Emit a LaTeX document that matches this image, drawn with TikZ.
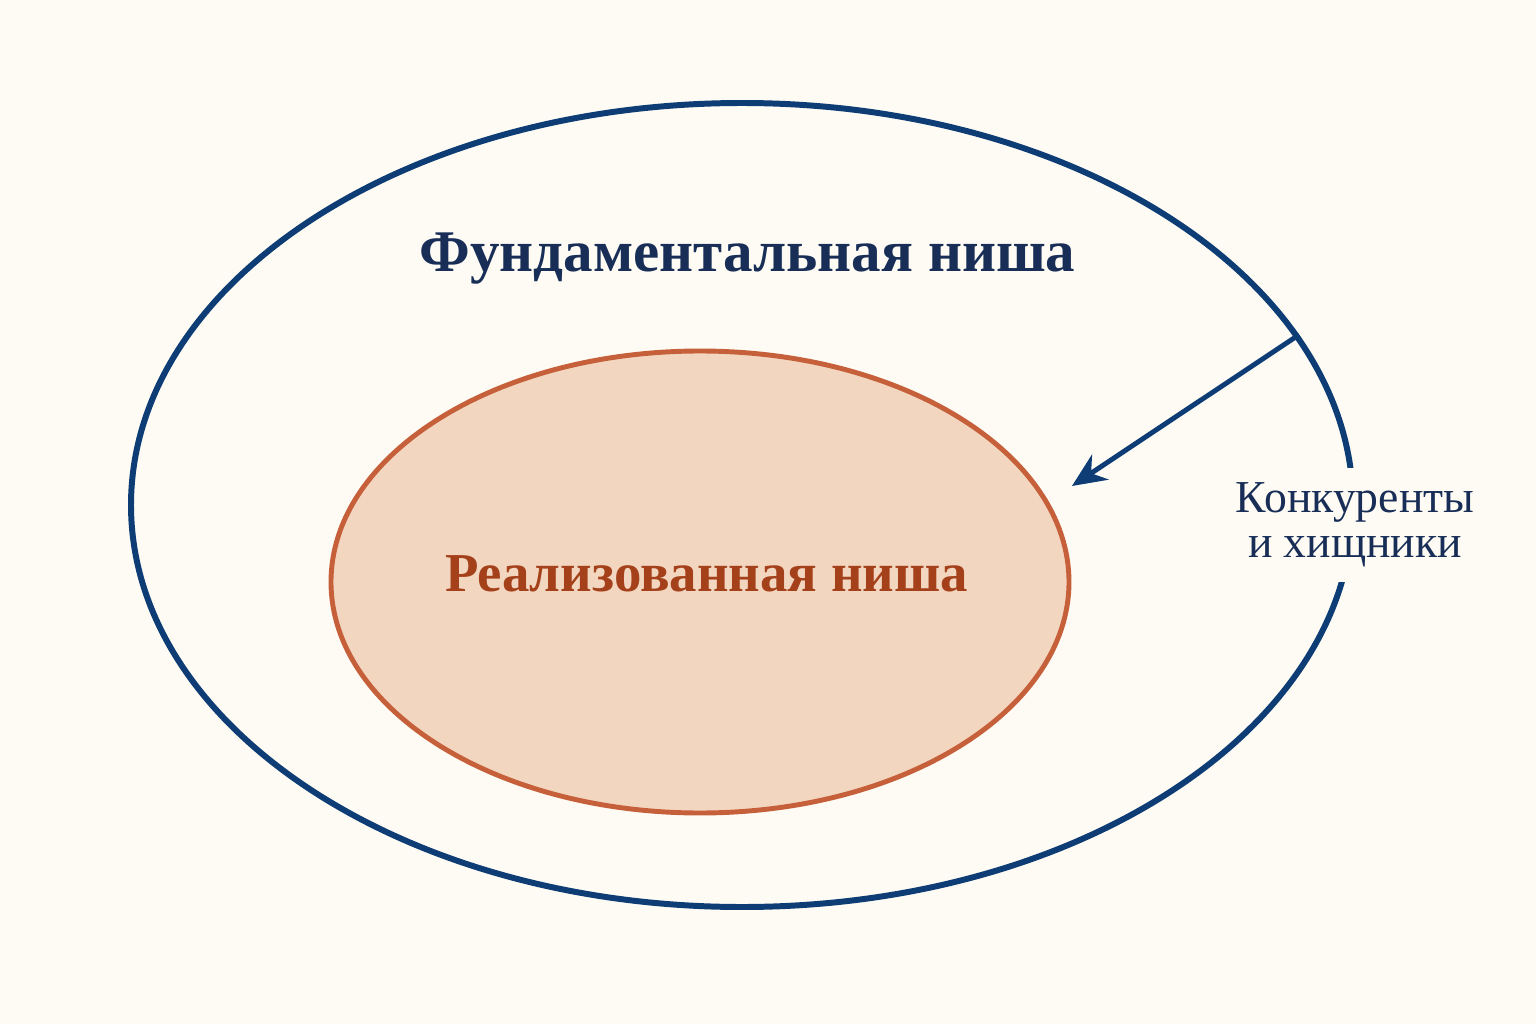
\documentclass[tikz,border=0pt]{standalone}
\usepackage{fontspec}
\setmainfont{Liberation Serif}
\usepackage{tikz}
\usetikzlibrary{arrows.meta,shapes.geometric}

\definecolor{bgcream}{HTML}{FDFBF4}
\definecolor{nicheblue}{HTML}{0E3C74}
\definecolor{nichenavy}{HTML}{182E57}
\definecolor{realfill}{HTML}{F3D6C0}
\definecolor{realline}{HTML}{C6603A}
\definecolor{realtext}{HTML}{A4411A}

\begin{document}
\begin{tikzpicture}[
    fundniche/.style={ellipse, draw=nicheblue, line width=1.7pt, minimum width=12.22cm, minimum height=8.04cm},
    realniche/.style={ellipse, draw=realline, fill=realfill, line width=1.4pt, minimum width=7.38cm, minimum height=4.62cm},
    bigtitle/.style={anchor=base, font=\fontsize{16.8}{20}\selectfont\bfseries}
]
            \fill[bgcream] (0,0) rectangle (15.36,10.24);
            \useasboundingbox (0,0) rectangle (15.36,10.24);
            \node[fundniche] (Fund) at (7.42,5.19) {};
            \node[realniche] (Real) at (7.00,4.42) {};
            \node[bigtitle, text=nichenavy] (FundLabel) at (7.475,7.52) {Фундаментальная ниша};
            \node[bigtitle, text=realtext, font=\fontsize{15.6}{18}\selectfont\bfseries] (RealLabel) at (7.065,4.33) {Реализованная ниша};
            \node[fill=bgcream, text=nichenavy, align=center, inner xsep=2pt, inner ysep=0.15cm, font=\fontsize{13}{12.8}\selectfont] (Comp) at (13.55,4.99) {Конкуренты\\и хищники};
            \draw[nicheblue, line width=1.4pt, -{Stealth[length=0.34cm,width=0.30cm]}, shorten >=0.28cm] (Fund.17.3) -- (Real.13.4);
        \end{tikzpicture}
\end{document}
